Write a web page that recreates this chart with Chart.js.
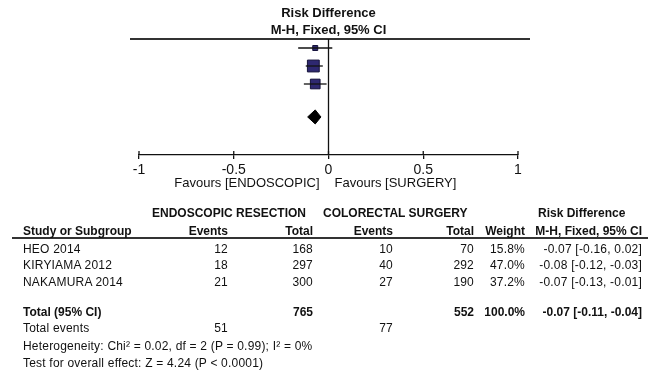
<!DOCTYPE html>
<html>
<head>
<meta charset="utf-8">
<script src="https://cdn.jsdelivr.net/npm/chart.js@4"></script>
<style>
  html, body { margin: 0; padding: 0; background: #fff; }
  #wrap { position: relative; width: 658px; height: 374px; overflow: hidden; }
  #chart { position: absolute; left: 0; top: 0; }
  .t { position: absolute; white-space: nowrap; font: 12px "Liberation Sans", Arial, sans-serif; color: #111; transform: translateY(-50%); line-height: 14px; letter-spacing: 0.2px; }
  .b { font-weight: bold; letter-spacing: 0; }
  #rule { position: absolute; left: 12px; width: 636px; top: 237px; height: 2px; background: #333; }
</style>
</head>
<body>
<div id="wrap">
  <canvas id="chart" width="658" height="374"></canvas>
  <div id="rule"></div>
</div>
<script>
// study data
const studies = ['HEO 2014', 'KIRYIAMA 2012', 'NAKAMURA 2014'];
const eventsEndo = [12, 18, 21];
const totalEndo = [168, 297, 300];
const eventsSurg = [10, 40, 27];
const totalSurg = [70, 292, 190];
const weights = [15.8, 47.0, 37.2];
const riskDiff = [-0.07, -0.08, -0.07];
const ciLow = [-0.16, -0.12, -0.13];
const ciHigh = [0.02, -0.03, -0.01];

// pooled (fixed effect)
const pooledRd = -0.07;
const pooledLow = -0.11;
const pooledHigh = -0.04;
const pooledTotalEndo = 765;
const pooledTotalSurg = 552;
const pooledEventsEndo = 51;
const pooledEventsSurg = 77;

const xTicks = [-1, -0.5, 0, 0.5, 1];

const chart1 = document.getElementById('chart');
const wrap = document.getElementById('wrap');
const fmt = v => v.toFixed(2);
const ciText = (rd, lo, hi) => `${fmt(rd)} [${fmt(lo)}, ${fmt(hi)}]`;

// row positions on the (reversed) y scale
const rowY = i => i + 0.5;
const totalY = 4.33;

// Function to build the datasets for the forest plot
function buildDatasets() {
    const sets = [];
    studies.forEach((s, i) => {
        sets.push({
            type: 'line',
            data: [{ x: ciLow[i], y: rowY(i) }, { x: ciHigh[i], y: rowY(i) }],
            borderColor: '#111',
            borderWidth: 1.3,
            pointRadius: 0,
        });
    });
    // square side grows with study weight
    sets.push({
        type: 'scatter',
        data: studies.map((s, i) => ({ x: riskDiff[i], y: rowY(i) })),
        pointStyle: 'rect',
        pointRadius: weights.map(w => (0.22 * w + 1.5) / Math.SQRT2),
        backgroundColor: '#2e2870',
        borderColor: '#14113a',
        borderWidth: 1,
    });
    sets.push({
        type: 'line',
        data: [
            { x: pooledLow, y: totalY },
            { x: pooledRd, y: totalY - 0.39 },
            { x: pooledHigh, y: totalY },
            { x: pooledRd, y: totalY + 0.39 },
            { x: pooledLow, y: totalY },
        ],
        borderColor: '#000',
        backgroundColor: '#000',
        borderWidth: 1,
        pointRadius: 0,
        tension: 0,
        fill: 'shape',
    });
    return sets;
}

// extra drawing: titles, zero line, header rule, favours labels
const forestDecor = {
    id: 'forestDecor',
    afterDraw(chart) {
        const { ctx, chartArea, scales } = chart;
        const x0 = scales.x.getPixelForValue(0);
        ctx.save();
        ctx.fillStyle = '#111';
        ctx.textAlign = 'center';
        ctx.textBaseline = 'middle';
        ctx.font = 'bold 13px "Liberation Sans", Arial, sans-serif';
        ctx.fillText('Risk Difference', x0, 13);
        ctx.fillText('M-H, Fixed, 95% CI', x0, 30);

        ctx.strokeStyle = '#333';
        ctx.lineWidth = 2;
        ctx.beginPath();
        ctx.moveTo(chartArea.left - 9, chartArea.top);
        ctx.lineTo(chartArea.right + 12, chartArea.top);
        ctx.stroke();

        ctx.strokeStyle = '#111';
        ctx.lineWidth = 1.3;
        ctx.beginPath();
        ctx.moveTo(x0, chartArea.top);
        ctx.lineTo(x0, chartArea.bottom);
        ctx.stroke();

        // upper half of tick marks
        xTicks.forEach(v => {
            const px = scales.x.getPixelForValue(v);
            ctx.beginPath();
            ctx.moveTo(px, chartArea.bottom - 4);
            ctx.lineTo(px, chartArea.bottom);
            ctx.stroke();
        });

        ctx.font = '13px "Liberation Sans", Arial, sans-serif';
        ctx.textAlign = 'right';
        ctx.fillText('Favours [ENDOSCOPIC]', x0 - 9, 183);
        ctx.textAlign = 'left';
        ctx.fillText('Favours [SURGERY]', x0 + 6, 183);
        ctx.restore();
    },
};

function drawChart() {
    new Chart(chart1, {
        data: { datasets: buildDatasets() },
        options: {
            responsive: false,
            animation: false,
            layout: { padding: { left: 139, right: 140, top: 39, bottom: 199 } },
            plugins: { legend: { display: false }, tooltip: { enabled: false } },
            scales: {
                x: {
                    type: 'linear',
                    min: -1,
                    max: 1,
                    afterBuildTicks: scale => { scale.ticks = xTicks.map(v => ({ value: v })); },
                    afterFit: scale => { scale.height = 20; },
                    border: { display: true, color: '#111', width: 1.3 },
                    grid: { drawOnChartArea: false, drawTicks: true, tickLength: 4, color: '#111', lineWidth: 1.3 },
                    ticks: {
                        padding: 3,
                        color: '#111',
                        font: { family: '"Liberation Sans", Arial, sans-serif', size: 14 },
                        callback: v => String(v),
                    },
                },
                y: { type: 'linear', reverse: true, min: 0, max: 116 / 18, display: false },
            },
        },
        plugins: [forestDecor],
    });
}

// Function to place one text item of the table
function addText(text, y, opts) {
    const el = document.createElement('div');
    el.className = 't' + (opts.bold ? ' b' : '');
    el.textContent = text;
    el.style.top = y + 'px';
    if (opts.right !== undefined) el.style.right = (658 - opts.right) + 'px';
    else el.style.left = opts.left + 'px';
    wrap.appendChild(el);
}

function drawTable() {
    // column right edges
    const cEvE = 228, cTotE = 313, cEvS = 393, cTotS = 474, cW = 525, cCI = 642;
    addText('ENDOSCOPIC RESECTION', 213, { left: 152, bold: true });
    addText('COLORECTAL SURGERY', 213, { left: 323, bold: true });
    addText('Risk Difference', 213, { left: 538, bold: true });
    addText('Study or Subgroup', 231, { left: 23, bold: true });
    addText('Events', 231, { right: cEvE, bold: true });
    addText('Total', 231, { right: cTotE, bold: true });
    addText('Events', 231, { right: cEvS, bold: true });
    addText('Total', 231, { right: cTotS, bold: true });
    addText('Weight', 231, { right: cW, bold: true });
    addText('M-H, Fixed, 95% CI', 231, { right: cCI, bold: true });

    const rowTops = [249, 265, 282];
    studies.forEach((s, i) => {
        const y = rowTops[i];
        addText(s, y, { left: 23 });
        addText(String(eventsEndo[i]), y, { right: cEvE });
        addText(String(totalEndo[i]), y, { right: cTotE });
        addText(String(eventsSurg[i]), y, { right: cEvS });
        addText(String(totalSurg[i]), y, { right: cTotS });
        addText(weights[i].toFixed(1) + '%', y, { right: cW });
        addText(ciText(riskDiff[i], ciLow[i], ciHigh[i]), y, { right: cCI });
    });

    addText('Total (95% CI)', 312, { left: 23, bold: true });
    addText(String(pooledTotalEndo), 312, { right: cTotE, bold: true });
    addText(String(pooledTotalSurg), 312, { right: cTotS, bold: true });
    addText('100.0%', 312, { right: cW, bold: true });
    addText(ciText(pooledRd, pooledLow, pooledHigh), 312, { right: cCI, bold: true });

    addText('Total events', 328, { left: 23 });
    addText(String(pooledEventsEndo), 328, { right: cEvE });
    addText(String(pooledEventsSurg), 328, { right: cEvS });
    addText('Heterogeneity: Chi\u00B2 = 0.02, df = 2 (P = 0.99); I\u00B2 = 0%', 346, { left: 23 });
    addText('Test for overall effect: Z = 4.24 (P < 0.0001)', 363, { left: 23 });
}

drawChart();
drawTable();
</script>
</body>
</html>
